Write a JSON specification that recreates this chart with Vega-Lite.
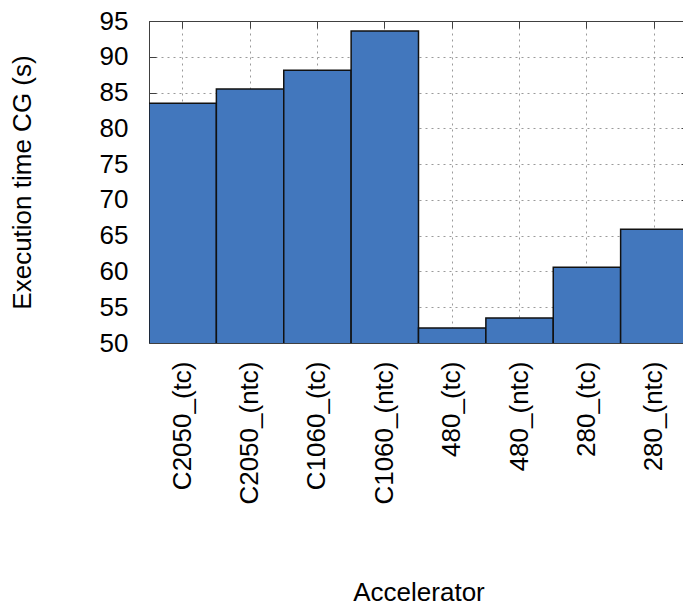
{
  "$schema": "https://vega.github.io/schema/vega-lite/v6.json",
  "width": 539,
  "height": 322,
  "autosize": {"type": "none"},
  "padding": {"left": 149, "top": 21, "right": -5, "bottom": 265},
  "background": "white",
  "config": {
    "font": "Liberation Sans",
    "view": {"stroke": "#404040", "strokeWidth": 1}
  },
  "data": {
    "values": [
      {"accelerator": "C2050_(tc)", "time": 83.5},
      {"accelerator": "C2050_(ntc)", "time": 85.5},
      {"accelerator": "C1060_(tc)", "time": 88.1},
      {"accelerator": "C1060_(ntc)", "time": 93.6},
      {"accelerator": "480_(tc)", "time": 52.1},
      {"accelerator": "480_(ntc)", "time": 53.5},
      {"accelerator": "280_(tc)", "time": 60.6},
      {"accelerator": "280_(ntc)", "time": 65.9}
    ]
  },
  "layer": [
    {
      "mark": {"type": "bar", "fill": "#4277bd", "stroke": "#111111", "strokeWidth": 1.5, "clip": true},
      "encoding": {
        "x": {
          "field": "accelerator", "type": "nominal", "sort": null,
          "scale": {"paddingInner": 0, "paddingOuter": 0},
          "axis": {
            "orient": "bottom", "labelAngle": -90, "labelFontSize": 26, "labelColor": "#000000",
            "labelPadding": 18, "ticks": false, "domainColor": "#404040",
            "grid": true, "gridColor": "#9a9a9a", "gridDash": [2, 4], "gridWidth": 1,
            "title": "Accelerator", "titleFontSize": 26, "titleFontWeight": "normal",
            "titleColor": "#000000", "titlePadding": 75
          }
        },
        "y": {
          "field": "time", "type": "quantitative",
          "scale": {"domain": [50, 95], "nice": false, "zero": false},
          "axis": {
            "orient": "left", "values": [50, 55, 60, 65, 70, 75, 80, 85, 90, 95],
            "labelFontSize": 26, "labelColor": "#000000", "labelPadding": 28,
            "ticks": true, "tickSize": -7, "tickColor": "#404040", "domainColor": "#404040",
            "grid": true, "gridColor": "#9a9a9a", "gridDash": [2, 4], "gridWidth": 1,
            "title": "Execution time CG (s)", "titleFontSize": 26, "titleFontWeight": "normal",
            "titleColor": "#000000", "titlePadding": 64
          }
        }
      }
    },
    {
      "mark": {"type": "bar", "opacity": 0},
      "encoding": {
        "x": {
          "field": "accelerator", "type": "nominal", "sort": null,
          "axis": {"orient": "top", "labels": false, "ticks": true, "tickSize": -7, "tickColor": "#404040", "domainColor": "#404040", "grid": false, "title": null}
        },
        "y": {
          "field": "time", "type": "quantitative",
          "axis": {"orient": "right", "values": [50, 55, 60, 65, 70, 75, 80, 85, 90, 95], "labels": false, "ticks": true, "tickSize": -7, "tickColor": "#404040", "domainColor": "#404040", "grid": false, "title": null}
        }
      }
    }
  ],
  "resolve": {"axis": {"x": "independent", "y": "independent"}}
}
